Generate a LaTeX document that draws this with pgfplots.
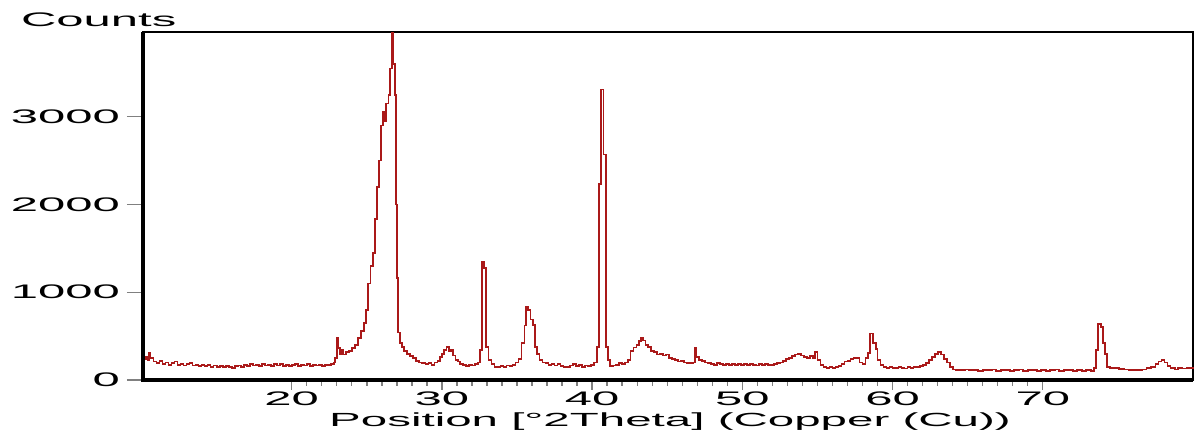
\documentclass[border=0pt]{standalone}
\usepackage{fontspec}
\setmainfont[FakeStretch=2.5]{Liberation Sans}
\usepackage{pgfplots}
\pgfplotsset{compat=1.18}
\definecolor{xrd}{RGB}{170,25,25}
\begin{document}
\begin{tikzpicture}
\begin{axis}[
  scale only axis,
  width=525pt, height=174pt,
  xmin=10.1, xmax=80, ymin=0, ymax=3965,
  xtick={20,30,40,50,60,70},
  ytick={0,1000,2000,3000},
  minor x tick num=9,
  tick align=outside,
  xtick pos=bottom, ytick pos=left,
  major tick length=8pt,
  xtick style={/pgfplots/major tick length=5pt, /pgfplots/minor tick length=3pt, line width=0.7pt},
  ytick style={line width=0.7pt},
  axis line style={line width=0.9pt},
  /pgf/number format/assume math mode=true,
  /pgf/number format/1000 sep={},
  every tick label/.append style={font=\fontsize{9.8}{11}\selectfont},
  xticklabel style={anchor=base, yshift=-5pt},
  clip=false,
]
\addplot[const plot, color=xrd, line width=0.9pt] coordinates {
(10.1,240)(10.3,260)(10.4,230)(10.5,310)(10.6,250)(10.8,210)(11.0,190)(11.2,215)(11.4,180)(11.6,200)(11.8,175)
(12.0,190)(12.2,210)(12.4,175)(12.6,185)(12.8,165)(13.0,180)(13.2,195)(13.4,165)(13.6,175)(13.8,155)
(14.0,170)(14.2,160)(14.4,175)(14.6,150)(14.8,165)(15.0,150)(15.2,160)(15.4,145)(15.6,160)(15.8,150)
(16.0,140)(16.2,155)(16.4,165)(16.6,150)(16.8,170)(17.0,160)(17.2,180)(17.4,165)(17.6,175)(17.8,160)
(18.0,180)(18.2,165)(18.4,175)(18.6,160)(18.8,185)(19.0,165)(19.2,180)(19.4,160)(19.6,175)(19.8,160)
(20.0,170)(20.2,185)(20.4,160)(20.6,175)(20.8,165)(21.0,180)(21.2,160)(21.4,175)(21.6,165)(21.8,170)
(22.0,160)(22.2,175)(22.4,170)(22.6,180)(22.8,200)(22.9,250)(23.0,480)(23.1,360)(23.2,300)(23.3,340)
(23.4,290)(23.6,320)(23.8,330)(24.0,360)(24.2,400)(24.4,480)(24.6,560)(24.8,650)(24.95,800)(25.1,1100)
(25.25,1300)(25.4,1450)(25.55,1830)(25.7,2200)(25.8,2500)(25.95,2900)(26.1,3050)(26.2,2950)(26.3,3150)
(26.45,3250)(26.55,3550)(26.65,3960)(26.75,3600)(26.85,3250)(26.95,2000)(27.0,1160)(27.1,540)(27.2,420)
(27.35,380)(27.5,330)(27.7,300)(27.9,270)(28.1,250)(28.3,220)(28.5,200)(28.7,190)(28.9,180)(29.1,190)
(29.3,175)(29.5,200)(29.7,220)(29.85,260)(30.0,300)(30.15,340)(30.3,380)(30.45,330)(30.6,340)(30.75,280)
(30.9,230)(31.05,210)(31.2,180)(31.4,175)(31.6,160)(31.8,175)(32.0,165)(32.2,180)(32.4,200)(32.55,340)
(32.65,1350)(32.8,1280)(32.95,380)(33.1,230)(33.3,180)(33.5,150)(33.7,145)(33.9,160)(34.1,150)(34.3,165)
(34.5,155)(34.7,175)(34.9,200)(35.1,240)(35.3,420)(35.5,620)(35.6,835)(35.75,800)(35.9,690)(36.05,630)
(36.2,380)(36.35,300)(36.5,230)(36.7,200)(36.9,190)(37.1,170)(37.3,180)(37.5,165)(37.7,185)(37.9,160)
(38.1,150)(38.3,145)(38.5,165)(38.7,180)(38.9,160)(39.1,170)(39.3,150)(39.5,165)(39.7,160)(39.9,175)
(40.1,200)(40.3,380)(40.45,2230)(40.6,3310)(40.75,2570)(40.9,380)(41.05,230)(41.2,160)(41.4,165)(41.6,175)
(41.8,190)(42.0,185)(42.2,200)(42.4,230)(42.55,330)(42.75,370)(42.95,400)(43.1,440)(43.25,475)(43.4,450)
(43.55,400)(43.7,380)(43.9,330)(44.1,320)(44.3,290)(44.5,300)(44.7,280)(44.9,290)(45.1,250)(45.3,240)
(45.5,230)(45.7,210)(45.9,220)(46.1,200)(46.3,190)(46.5,195)(46.7,200)(46.85,365)(46.95,260)(47.1,230)
(47.3,220)(47.5,200)(47.7,190)(47.9,185)(48.1,175)(48.3,190)(48.5,180)(48.7,170)(48.9,185)(49.1,175)
(49.3,180)(49.5,170)(49.7,185)(49.9,175)(50.1,180)(50.3,170)(50.5,185)(50.7,175)(50.9,165)(51.1,180)
(51.3,175)(51.5,185)(51.7,170)(51.9,175)(52.1,180)(52.3,190)(52.5,200)(52.7,220)(52.9,240)(53.1,250)
(53.3,270)(53.5,290)(53.7,300)(53.9,280)(54.1,260)(54.3,250)(54.5,270)(54.7,250)(54.85,320)(55.0,230)
(55.2,175)(55.4,150)(55.6,140)(55.8,150)(56.0,135)(56.2,145)(56.4,155)(56.6,180)(56.8,210)(57.0,220)
(57.2,240)(57.4,250)(57.6,250)(57.8,200)(58.0,180)(58.2,250)(58.35,310)(58.5,530)(58.7,420)(58.9,350)
(59.0,225)(59.2,170)(59.4,150)(59.6,140)(59.8,150)(60.0,140)(60.2,135)(60.4,150)(60.6,140)(60.8,130)
(61.0,145)(61.2,140)(61.4,150)(61.6,145)(61.8,160)(62.0,170)(62.2,190)(62.4,230)(62.6,265)(62.8,300)
(63.0,320)(63.2,290)(63.4,240)(63.6,200)(63.8,150)(64.0,120)(64.2,115)(64.5,110)(64.8,120)(65.1,110)
(65.4,115)(65.7,105)(66.0,115)(66.3,110)(66.6,120)(66.9,105)(67.2,110)(67.5,115)(67.8,105)(68.1,110)
(68.4,120)(68.7,105)(69.0,115)(69.3,110)(69.6,105)(69.9,115)(70.2,105)(70.5,110)(70.8,120)(71.1,105)
(71.4,115)(71.7,110)(72.0,105)(72.3,115)(72.6,100)(72.9,110)(73.2,100)(73.4,135)(73.55,340)(73.7,640)
(73.85,600)(74.0,420)(74.15,300)(74.3,150)(74.5,140)(74.8,135)(75.1,125)(75.4,120)(75.7,115)(76.0,110)
(76.3,115)(76.6,120)(76.9,135)(77.2,150)(77.5,180)(77.7,210)(77.9,230)(78.1,200)(78.3,160)(78.5,140)
(78.8,120)(79.0,140)(79.3,130)(79.6,140)(80.0,135)
};
\draw[line width=1.8pt] (rel axis cs:0,1) -- (rel axis cs:0,0) -- (rel axis cs:1,0);
\node[anchor=base west, font=\fontsize{9.8}{11}\selectfont] at (rel axis cs:0,1) [xshift=-64.5pt, yshift=2.5pt] {Counts};
\node[anchor=base, font=\fontsize{9.5}{11}\selectfont] at (rel axis cs:0.5,0) [xshift=1pt, yshift=-23.5pt] {Position [°2Theta] (Copper (Cu))};
\end{axis}
\pgfresetboundingbox
\path[use as bounding box] (-71.5pt,-26.5pt) rectangle (526.5pt,190pt);
\end{tikzpicture}
\end{document}
